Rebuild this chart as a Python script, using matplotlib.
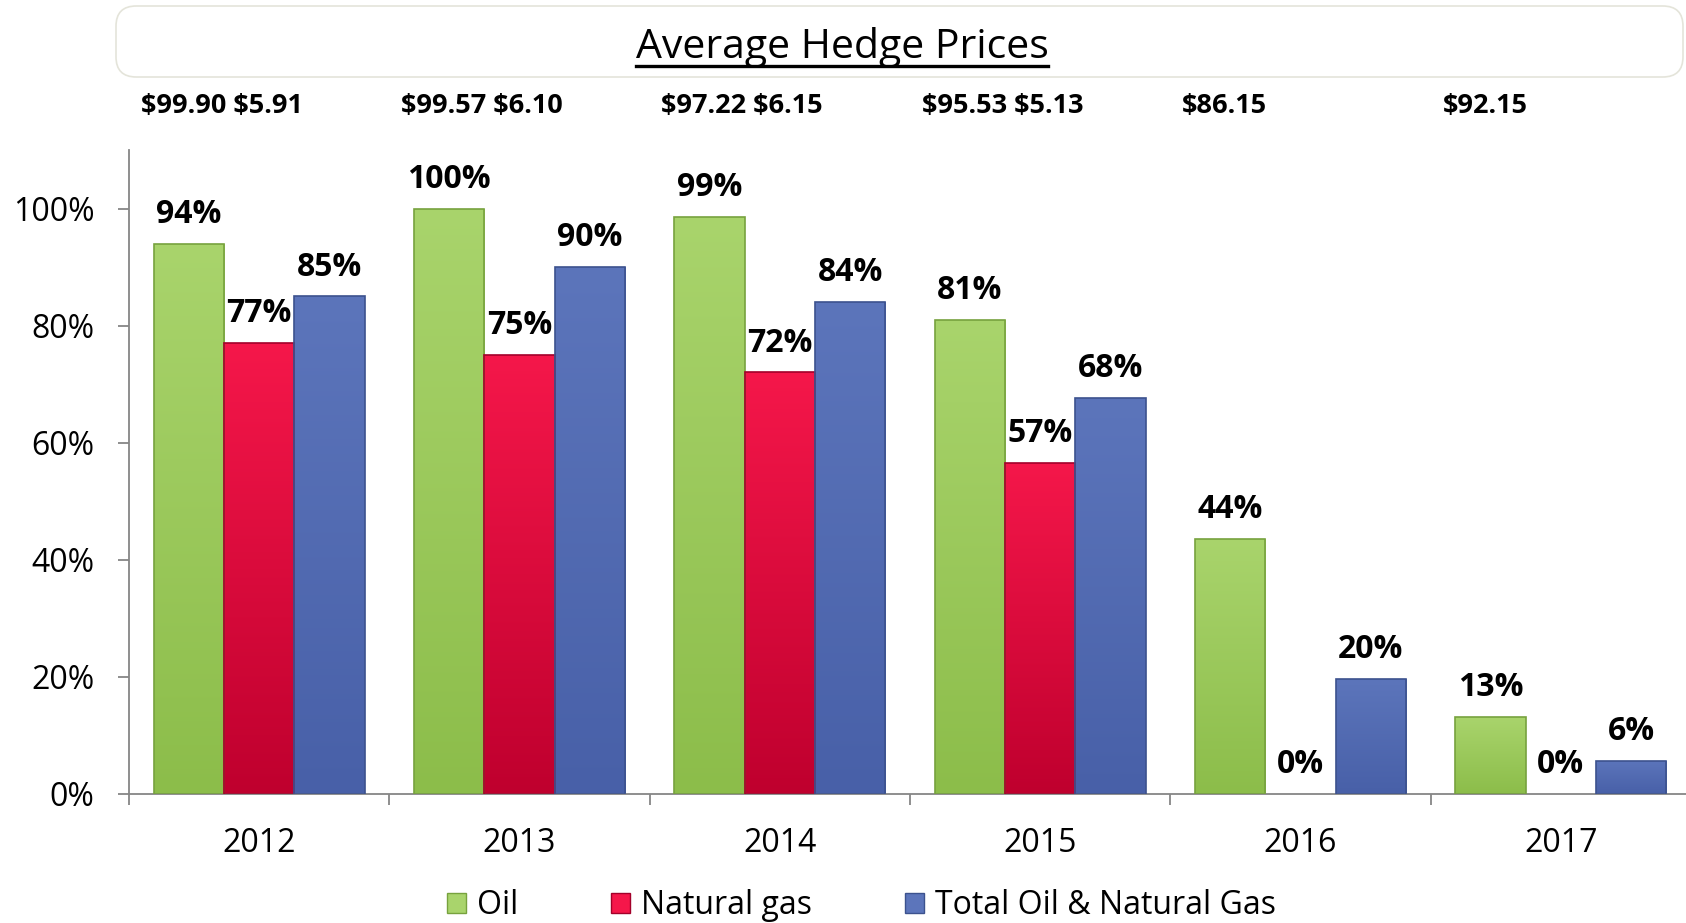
import numpy as np
import matplotlib
matplotlib.use("Agg")
import matplotlib.pyplot as plt
from matplotlib.colors import LinearSegmentedColormap
from matplotlib.patches import FancyBboxPatch, Patch
from matplotlib.lines import Line2D

plt.rcParams['font.family'] = ['Open Sans', 'DejaVu Sans']

# data
years = ['2012', '2013', '2014', '2015', '2016', '2017']
oil = [94, 100, 98.6, 81, 43.6, 13.1]
gas = [77, 75, 72, 56.6, 0, 0]
total = [85, 90, 84, 67.6, 19.6, 5.7]
oil_price = ['$99.90', '$99.57', '$97.22', '$95.53', '$86.15', '$92.15']
gas_price = ['$5.91', '$6.10', '$6.15', '$5.13', None, None]

series = [
    ('Oil', oil, '#a9d46c', '#8cbd4a', '#77a23e'),
    ('Natural gas', gas, '#f5174a', '#bf002e', '#a3002a'),
    ('Total Oil & Natural Gas', total, '#5c75bb', '#4860a8', '#3c528e'),
]

W, H = 1686, 923
fig = plt.figure(figsize=(W / 100, H / 100), dpi=100)
ax = fig.add_axes([129 / W, 1 - 794 / H, (1691 - 129) / W, (794 - 150) / H])

bw = 0.27
x = np.arange(len(years))
grad = np.linspace(0, 1, 256).reshape(-1, 1)

for k, (name, vals, c_top, c_bot, edge) in enumerate(series):
    xs = x + (k - 1) * bw
    cmap = LinearSegmentedColormap.from_list(name, [c_bot, c_top])
    bars = ax.bar(xs, vals, bw, facecolor='none', edgecolor=edge, linewidth=1.2, zorder=3)
    for rect, v in zip(bars, vals):
        if v <= 0:
            rect.set_linewidth(0)
        else:
            x0 = rect.get_x()
            im = ax.imshow(grad, extent=[x0, x0 + bw, 0, v], origin='lower', cmap=cmap,
                           aspect='auto', zorder=2, interpolation='bilinear')
            im.set_clip_path(rect)
        ax.annotate(f"{v:.0f}%", (rect.get_x() + bw / 2, v), xytext=(0, 15),
                    textcoords='offset points', ha='center', va='baseline',
                    fontsize=23, fontweight='bold', color='black')

ax.set_xlim(-0.5, len(years) - 0.5)
ax.set_ylim(0, 110)

# axes styling
for s in ['top', 'right']:
    ax.spines[s].set_visible(False)
for s in ['left', 'bottom']:
    ax.spines[s].set_color('#868686')
    ax.spines[s].set_linewidth(1.3)

ax.set_yticks([0, 20, 40, 60, 80, 100])
ax.set_yticklabels([f"{t}%" for t in [0, 20, 40, 60, 80, 100]])
ax.tick_params(axis='y', direction='out', length=8, width=1.3, color='#868686',
               pad=17, labelsize=23)
ax.set_xticks(x)
ax.set_xticklabels(years)
ax.set_xticks(np.arange(-0.5, len(years)), minor=True)
ax.tick_params(axis='x', which='major', length=0, pad=24, labelsize=23)
ax.tick_params(axis='x', which='minor', direction='out', length=8, width=1.3, color='#868686')

# price row above plot
for i in range(len(years)):
    txt = oil_price[i] if gas_price[i] is None else f"{oil_price[i]} {gas_price[i]}"
    ax.text(i - 0.5 + 0.045, (794 - 113) / 644, txt.replace('$', r'\$'),
            transform=ax.get_xaxis_transform(), ha='left', va='baseline',
            fontsize=19.5, fontweight='bold', clip_on=False)

# title box
box = FancyBboxPatch((116 / W, 1 - 77 / H), (1683 - 116) / W, (77 - 6) / H,
                     boxstyle='round,pad=0,rounding_size=0.012', transform=fig.transFigure,
                     facecolor='white', edgecolor='#e4e4da', linewidth=1.2, mutation_aspect=W / H)
fig.add_artist(box)
title = fig.text(842 / W, 1 - 58 / H, 'Average Hedge Prices', ha='center', va='baseline',
                 fontsize=29.5, color='black')
fig.canvas.draw()
bb = title.get_window_extent(fig.canvas.get_renderer())
fig.add_artist(Line2D([bb.x0 / W, bb.x1 / W], [1 - 66 / H, 1 - 66 / H], color='black',
                      linewidth=2.4, transform=fig.transFigure))

# legend
handles = [Patch(facecolor=c_top, edgecolor=edge, label=name)
           for name, _, c_top, _, edge in series]
fig.legend(handles=handles, loc='center', bbox_to_anchor=(0.511, 1 - 906 / H), ncol=3,
           frameon=False, fontsize=23, handlelength=0.6, handleheight=0.6,
           handletextpad=0.35, columnspacing=2.9, borderpad=0)

fig.savefig('out.png', dpi=100)
